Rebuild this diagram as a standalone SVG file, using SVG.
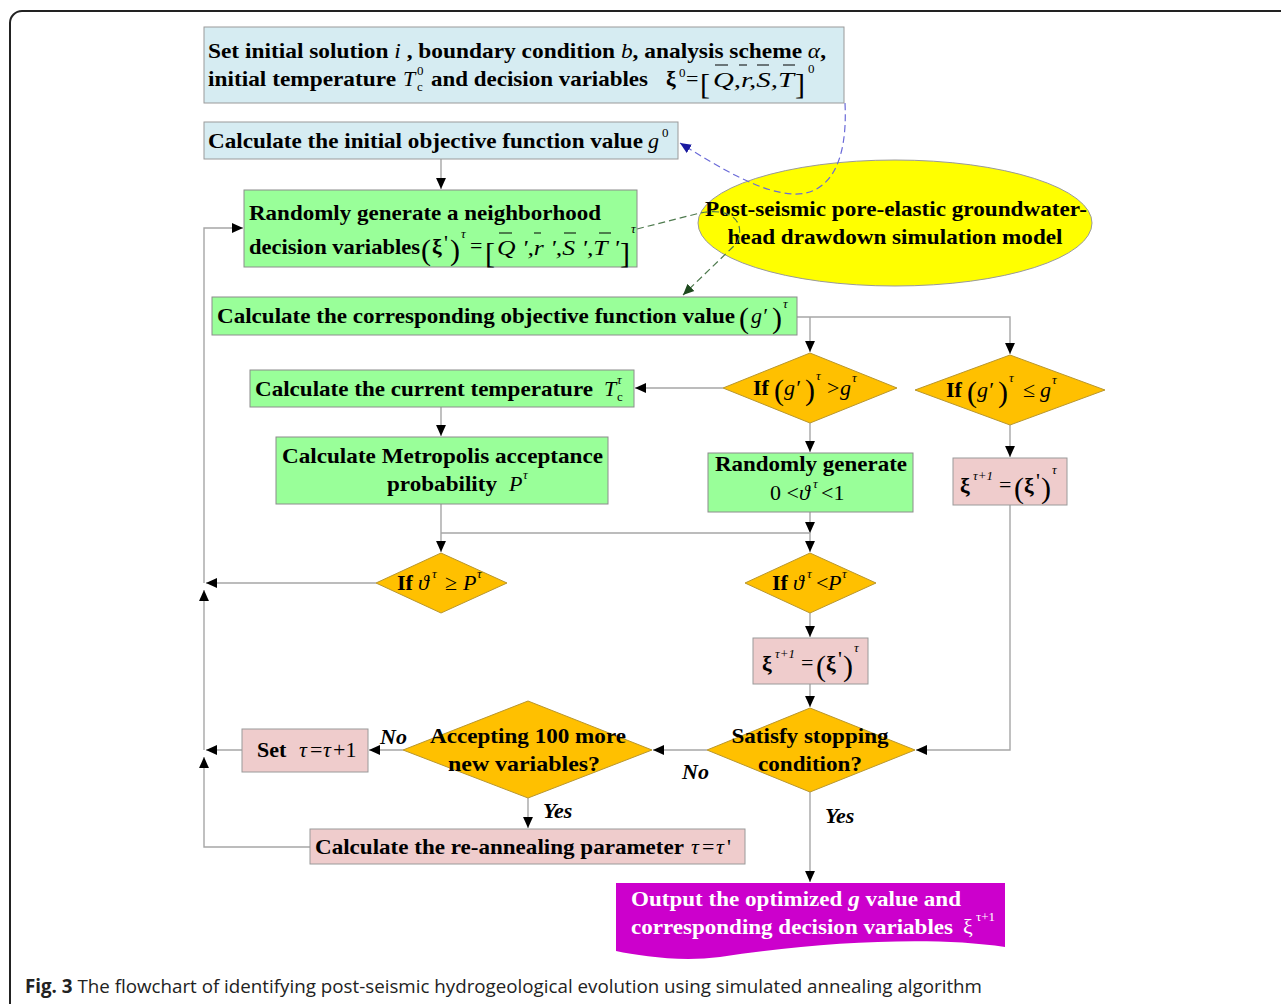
<svg xmlns="http://www.w3.org/2000/svg" width="1281" height="1004" viewBox="0 0 1281 1004">
<style>
.t{font-family:"Liberation Serif","Times New Roman",serif;font-weight:bold;font-size:22px;fill:#000}
.m{font-family:"Liberation Serif","Times New Roman",serif;font-style:italic;font-weight:normal;font-size:22px;fill:#000}
.r{font-family:"Liberation Serif","Times New Roman",serif;font-weight:normal;font-size:22px;fill:#000}
.s{font-family:"Liberation Serif","Times New Roman",serif;font-style:italic;font-weight:normal;font-size:13px;fill:#000}
.sr{font-family:"Liberation Serif","Times New Roman",serif;font-weight:normal;font-size:13px;fill:#000}
.big{font-family:"Liberation Serif","Times New Roman",serif;font-weight:normal;font-size:30px;fill:#000}
.lbl{font-family:"Liberation Serif","Times New Roman",serif;font-style:italic;font-weight:bold;font-size:22px;fill:#000}
.blue{fill:#D6ECF2;stroke:#9A9A9A;stroke-width:1}
.green{fill:#99FF99;stroke:#8C8C8C;stroke-width:1}
.pink{fill:#EFCCCC;stroke:#9A9A9A;stroke-width:1}
.dia{fill:#FFC000;stroke:#B8962E;stroke-width:1}
.c{fill:none;stroke:#A6A6A6;stroke-width:1.4}
.ob{stroke:#000;stroke-width:1.2}
.w{fill:#fff}
</style>
<defs>
<marker id="ah" viewBox="0 0 10 10" refX="10" refY="5" markerWidth="11" markerHeight="11" markerUnits="userSpaceOnUse" orient="auto"><path d="M0,0.5 L10,5 L0,9.5 z" fill="#000"/></marker>
<marker id="ahb" viewBox="0 0 10 10" refX="10" refY="5" markerWidth="11" markerHeight="11" markerUnits="userSpaceOnUse" orient="auto"><path d="M0,0.5 L10,5 L0,9.5 z" fill="#1A1AA0"/></marker>
<marker id="ahg" viewBox="0 0 10 10" refX="10" refY="5" markerWidth="11" markerHeight="11" markerUnits="userSpaceOnUse" orient="auto"><path d="M0,0.5 L10,5 L0,9.5 z" fill="#1E4A1E"/></marker>
</defs>
<rect x="0" y="0" width="1281" height="1004" fill="#fff"/>
<rect x="10" y="11" width="1300" height="1010" rx="12" fill="none" stroke="#222" stroke-width="2"/>

<g id="n-model">
<ellipse cx="895" cy="223" rx="197" ry="63" fill="#FFFF00" stroke="#9A9A9A" stroke-width="1"/>
<text class="t" x="896" y="216" text-anchor="middle" textLength="382" lengthAdjust="spacingAndGlyphs">Post-seismic pore-elastic groundwater-</text>
<text class="t" x="895" y="244" text-anchor="middle" textLength="335" lengthAdjust="spacingAndGlyphs">head drawdown simulation model</text>
</g>

<g id="connectors">
<path class="c" d="M441,159 V189" marker-end="url(#ah)"/>
<path class="c" d="M797,317 H1010 V354" marker-end="url(#ah)"/>
<path class="c" d="M810,317 V352" marker-end="url(#ah)"/>
<path class="c" d="M723,388 H635" marker-end="url(#ah)"/>
<path class="c" d="M441,407 V436" marker-end="url(#ah)"/>
<path class="c" d="M810,423 V452" marker-end="url(#ah)"/>
<path class="c" d="M1010,425 V457" marker-end="url(#ah)"/>
<path class="c" d="M441,504 V552" marker-end="url(#ah)"/>
<path class="c" d="M810,512 V533" marker-end="url(#ah)"/>
<path class="c" d="M441,533 H810"/>
<path class="c" d="M810,533 V552" marker-end="url(#ah)"/>
<path class="c" d="M376,583 H206" marker-end="url(#ah)"/>
<path class="c" d="M810,613 V637" marker-end="url(#ah)"/>
<path class="c" d="M810,684 V707" marker-end="url(#ah)"/>
<path class="c" d="M1010,505 V750 H916" marker-end="url(#ah)"/>
<path class="c" d="M707,750 H653" marker-end="url(#ah)"/>
<path class="c" d="M403,750 H369" marker-end="url(#ah)"/>
<path class="c" d="M242,750 H206" marker-end="url(#ah)"/>
<path class="c" d="M528,798 V828" marker-end="url(#ah)"/>
<path class="c" d="M810,792 V882" marker-end="url(#ah)"/>
<path class="c" d="M310,847 H204 V757" marker-end="url(#ah)"/>
<path class="c" d="M204,750 V590" marker-end="url(#ah)"/>
<path class="c" d="M204,583 V228 H243" marker-end="url(#ah)"/>
<path d="M845,103 C848,165 828,196 792,194 C760,192 720,168 680,143" fill="none" stroke="#6A6AD8" stroke-width="1.2" stroke-dasharray="7,4" marker-end="url(#ahb)"/>
<path d="M637,229 L700,213 C732,207 746,222 737,243 L683,295" fill="none" stroke="#4E7A4E" stroke-width="1.2" stroke-dasharray="7,4" marker-end="url(#ahg)"/>
</g>

<g id="n-init">
<rect class="blue" x="204" y="27" width="640" height="76"/>
<text class="t" x="208" y="58" textLength="618" lengthAdjust="spacingAndGlyphs">Set initial solution <tspan class="m">i</tspan> , boundary condition <tspan class="m">b</tspan>, analysis scheme <tspan class="m">α</tspan>,</text>
<text class="t" x="208" y="86" textLength="188" lengthAdjust="spacingAndGlyphs">initial temperature</text>
<text class="m" x="403" y="86">T</text>
<text class="sr" x="417" y="91" font-size="11">c</text>
<text class="sr" x="417" y="75">0</text>
<text class="t" x="431" y="86" textLength="217" lengthAdjust="spacingAndGlyphs">and decision variables</text>
<text class="t" x="666" y="86">ξ</text>
<text class="sr" x="679" y="77">0</text>
<text class="r" x="686" y="86">=</text>
<text class="big" x="700" y="94" font-size="40">[</text>
<text class="m" x="713" y="87" textLength="81" lengthAdjust="spacingAndGlyphs">Q,r,S,T</text>
<text class="big" x="795" y="94" font-size="40">]</text>
<text class="sr" x="808" y="73" font-size="12">0</text>
<path class="ob" d="M715,65 H728 M739,65 H747 M757,65 H769 M783,65 H795"/>
</g>

<g id="n-g0">
<rect class="blue" x="204" y="122" width="474" height="37"/>
<text class="t" x="208" y="148" textLength="435" lengthAdjust="spacingAndGlyphs">Calculate the initial objective function value</text>
<text class="m" x="648" y="148">g</text>
<text class="sr" x="662" y="137">0</text>
</g>

<g id="n-neighbor">
<rect class="green" x="244" y="190" width="393" height="77"/>
<text class="t" x="249" y="220" textLength="352" lengthAdjust="spacingAndGlyphs">Randomly generate a neighborhood</text>
<text class="t" x="249" y="254" textLength="171" lengthAdjust="spacingAndGlyphs">decision variables</text>
<text class="big" x="421" y="260" font-size="32">(</text>
<text class="t" x="432" y="254">ξ</text>
<text class="r" x="444" y="250" font-size="18">'</text>
<text class="big" x="450" y="260" font-size="32">)</text>
<text class="s" x="461" y="238">τ</text>
<text class="r" x="470" y="253">=</text>
<text class="big" x="485" y="263" font-size="40">[</text>
<text class="m" x="497" y="255" textLength="122" lengthAdjust="spacingAndGlyphs">Q ',r ',S ',T '</text>
<text class="big" x="620" y="263" font-size="40">]</text>
<text class="s" x="631" y="233">τ</text>
<path class="ob" d="M499,233 H512 M534,233 H541 M564,233 H576 M599,233 H611"/>
</g>

<g id="n-objective">
<rect class="green" x="212" y="297" width="585" height="38"/>
<text class="t" x="217" y="323" textLength="518" lengthAdjust="spacingAndGlyphs">Calculate the corresponding objective function value</text>
<text class="big" x="739" y="328" font-size="28">(</text>
<text class="m" x="751" y="323">g′</text>
<text class="big" x="772" y="328" font-size="28">)</text>
<text class="s" x="783" y="308">τ</text>
</g>

<g id="n-ifgreater">
<polygon class="dia" points="810,353 897,388 810,423 723,388"/>
<text class="t" x="753" y="395">If</text>
<text class="big" x="774" y="400" font-size="28">(</text>
<text class="m" x="784" y="395">g′</text>
<text class="big" x="805" y="400" font-size="28">)</text>
<text class="s" x="816" y="380">τ</text>
<text class="r" x="827" y="395">&gt;</text>
<text class="m" x="840" y="395">g</text>
<text class="s" x="852" y="382">τ</text>
</g>

<g id="n-ifless">
<polygon class="dia" points="1010,355 1105,390 1010,425 915,390"/>
<text class="t" x="946" y="397">If</text>
<text class="big" x="967" y="402" font-size="28">(</text>
<text class="m" x="977" y="397">g′</text>
<text class="big" x="998" y="402" font-size="28">)</text>
<text class="s" x="1009" y="382">τ</text>
<text class="r" x="1023" y="397">≤</text>
<text class="m" x="1040" y="397">g</text>
<text class="s" x="1052" y="384">τ</text>
</g>

<g id="n-temp">
<rect class="green" x="250" y="370" width="384" height="37"/>
<text class="t" x="255" y="396" textLength="338" lengthAdjust="spacingAndGlyphs">Calculate the current temperature</text>
<text class="m" x="604" y="396">T</text>
<text class="sr" x="617" y="401" font-size="11">c</text>
<text class="s" x="617" y="384" font-size="12">τ</text>
</g>

<g id="n-metropolis">
<rect class="green" x="276" y="437" width="332" height="67"/>
<text class="t" x="282" y="463" textLength="321" lengthAdjust="spacingAndGlyphs">Calculate Metropolis acceptance</text>
<text class="t" x="387" y="491" textLength="110" lengthAdjust="spacingAndGlyphs">probability</text>
<text class="m" x="509" y="491">P</text>
<text class="s" x="523" y="479">τ</text>
</g>

<g id="n-random">
<rect class="green" x="708" y="453" width="205" height="59"/>
<text class="t" x="715" y="471" textLength="192" lengthAdjust="spacingAndGlyphs">Randomly generate</text>
<text class="r" x="770" y="500">0 &lt;</text>
<text class="m" x="799" y="500">ϑ</text>
<text class="s" x="813" y="488">τ</text>
<text class="r" x="821" y="500">&lt;1</text>
</g>

<g id="n-accept1">
<rect class="pink" x="953" y="458" width="114" height="47"/>
<text class="t" x="960" y="493">ξ</text>
<text class="s" x="973" y="480">τ+1</text>
<text class="r" x="999" y="492">=</text>
<text class="big" x="1014" y="498" font-size="30">(</text>
<text class="t" x="1024" y="493">ξ</text>
<text class="r" x="1036" y="488" font-size="18">'</text>
<text class="big" x="1041" y="498" font-size="30">)</text>
<text class="s" x="1052" y="474">τ</text>
</g>

<g id="n-ifge">
<polygon class="dia" points="441,553 507,583 441,613 376,583"/>
<text class="t" x="397" y="590">If</text>
<text class="m" x="418" y="590">ϑ</text>
<text class="s" x="432" y="578">τ</text>
<text class="r" x="445" y="590">≥</text>
<text class="m" x="463" y="590">P</text>
<text class="s" x="477" y="578">τ</text>
</g>

<g id="n-iflt">
<polygon class="dia" points="810,553 876,583 810,613 745,583"/>
<text class="t" x="772" y="590">If</text>
<text class="m" x="793" y="590">ϑ</text>
<text class="s" x="807" y="578">τ</text>
<text class="r" x="816" y="590">&lt;</text>
<text class="m" x="828" y="590">P</text>
<text class="s" x="842" y="578">τ</text>
</g>

<g id="n-accept2">
<rect class="pink" x="753" y="638" width="115" height="46"/>
<text class="t" x="762" y="671">ξ</text>
<text class="s" x="775" y="658">τ+1</text>
<text class="r" x="801" y="670">=</text>
<text class="big" x="816" y="676" font-size="30">(</text>
<text class="t" x="826" y="671">ξ</text>
<text class="r" x="838" y="666" font-size="18">'</text>
<text class="big" x="843" y="676" font-size="30">)</text>
<text class="s" x="854" y="652">τ</text>
</g>

<g id="n-stop">
<polygon class="dia" points="810,708 915,750 810,792 707,750"/>
<text class="t" x="810" y="743" text-anchor="middle" textLength="157" lengthAdjust="spacingAndGlyphs">Satisfy stopping</text>
<text class="t" x="810" y="771" text-anchor="middle" textLength="104" lengthAdjust="spacingAndGlyphs">condition?</text>
</g>

<g id="n-accepting">
<polygon class="dia" points="528,701 652,750 528,798 403,750"/>
<text class="t" x="528" y="743" text-anchor="middle" textLength="196" lengthAdjust="spacingAndGlyphs">Accepting 100 more</text>
<text class="t" x="524" y="771" text-anchor="middle" textLength="152" lengthAdjust="spacingAndGlyphs">new variables?</text>
</g>

<g id="n-settau">
<rect class="pink" x="242" y="729" width="126" height="43"/>
<text class="t" x="257" y="757">Set</text>
<text class="m" x="299" y="757">τ</text>
<text class="r" x="310" y="757">=</text>
<text class="m" x="323" y="757">τ</text>
<text class="r" x="333" y="757">+1</text>
</g>

<g id="n-reanneal">
<rect class="pink" x="310" y="829" width="435" height="35"/>
<text class="t" x="315" y="854" textLength="369" lengthAdjust="spacingAndGlyphs">Calculate the re-annealing parameter</text>
<text class="m" x="691" y="854">τ</text>
<text class="r" x="702" y="854">=</text>
<text class="m" x="716" y="854">τ</text>
<text class="r" x="727" y="854">'</text>
</g>

<g id="n-output">
<path d="M616,883 H1005 V947 C930,936 820,942 720,957 C680,962 640,956 616,951 Z" fill="#CC00CC"/>
<text class="t w" x="631" y="906" textLength="330" lengthAdjust="spacingAndGlyphs">Output the optimized <tspan class="w" font-style="italic">g</tspan> value and</text>
<text class="t w" x="631" y="934" textLength="322" lengthAdjust="spacingAndGlyphs">corresponding decision variables</text>
<text class="r w" x="963" y="934">ξ</text>
<text class="sr w" x="976" y="921">τ+1</text>
</g>

<g id="labels">
<text class="lbl" x="380" y="744">No</text>
<text class="lbl" x="682" y="779">No</text>
<text class="lbl" x="543" y="818">Yes</text>
<text class="lbl" x="825" y="823">Yes</text>
</g>

<text x="25" y="993" font-family="'Open Sans','Noto Sans',sans-serif" font-size="19" fill="#222" textLength="957" lengthAdjust="spacingAndGlyphs"><tspan font-weight="bold">Fig. 3</tspan> The flowchart of identifying post-seismic hydrogeological evolution using simulated annealing algorithm</text>
</svg>
